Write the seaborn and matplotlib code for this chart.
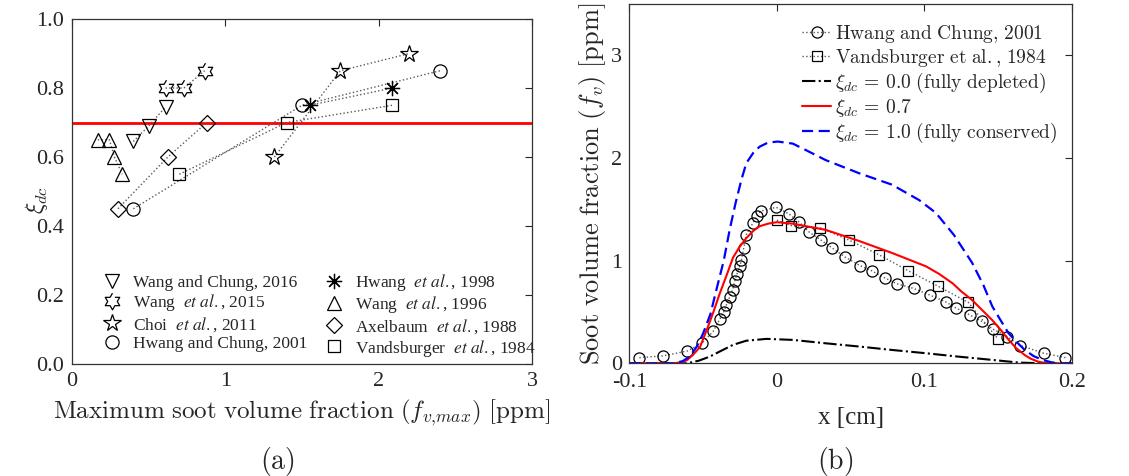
import numpy as np
import copy
import matplotlib
matplotlib.use("Agg")
import matplotlib.pyplot as plt
import seaborn as sns
from matplotlib.font_manager import FontProperties

sns.set_theme(style="white")
plt.rcParams['font.family'] = ['Liberation Serif', 'DejaVu Serif']
plt.rcParams['mathtext.fontset'] = 'cm'

# ---------------- Panel (a) data ----------------
wc2016_x = [0.40, 0.50, 0.61]
wc2016_y = [0.645, 0.69, 0.745]
w2015_x = [0.61, 0.73, 0.865]
w2015_y = [0.80, 0.80, 0.85]
choi_x = [1.32, 1.75, 2.20]
choi_y = [0.60, 0.85, 0.90]
hc2001_x = [0.40, 1.50, 2.40]
hc2001_y = [0.45, 0.75, 0.85]
h1998_x = [1.55, 2.09]
h1998_y = [0.75, 0.80]
w1996_x = [0.168, 0.244, 0.277, 0.327]
w1996_y = [0.65, 0.65, 0.60, 0.55]
axel_x = [0.30, 0.625, 0.879]
axel_y = [0.45, 0.60, 0.70]
vand_x = [0.70, 1.40, 2.09]
vand_y = [0.55, 0.70, 0.75]
xi_ref = 0.7

labels_a = ["Wang and Chung, 2016", r"Wang  $\it{et\ al.}$, 2015", r"Choi  $\it{et\ al.}$, 2011",
            "Hwang and Chung, 2001", r"Hwang  $\it{et\ al.}$, 1998", r"Wang  $\it{et\ al.}$, 1996",
            r"Axelbaum  $\it{et\ al.}$, 1988", r"Vandsburger  $\it{et\ al.}$, 1984"]

# ---------------- Panel (b) data ----------------
hc_x = [-0.0932, -0.077, -0.0606, -0.0505, -0.0432, -0.0387, -0.036, -0.0342, -0.032, -0.030,
        -0.0286, -0.027, -0.0252, -0.024, -0.0225, -0.0207, -0.0162, -0.0135, -0.011, -0.0005,
        0.0081, 0.0149, 0.022, 0.030, 0.0374, 0.0464, 0.0565, 0.0642, 0.0732, 0.0813,
        0.0926, 0.1038, 0.1144, 0.1216, 0.1306, 0.1387, 0.1466, 0.1561, 0.165, 0.181, 0.1955]
hc_y = [0.055, 0.072, 0.12, 0.20, 0.31, 0.43, 0.50, 0.57, 0.645, 0.717,
        0.80, 0.873, 0.945, 1.003, 1.12, 1.254, 1.368, 1.433, 1.482, 1.52,
        1.456, 1.378, 1.277, 1.199, 1.124, 1.033, 0.951, 0.902, 0.831, 0.775,
        0.73, 0.664, 0.599, 0.537, 0.472, 0.41, 0.332, 0.26, 0.173, 0.098, 0.055]

vd_x = [0.0, 0.0097, 0.0295, 0.049, 0.069, 0.089, 0.1095, 0.1297, 0.150]
vd_y = [1.394, 1.342, 1.319, 1.199, 1.059, 0.902, 0.749, 0.593, 0.235]

dep_x = [-0.10, -0.07, -0.061, -0.053, -0.0455, -0.038, -0.0297, -0.0207, -0.007, 0.0108,
         0.033, 0.056, 0.078, 0.101, 0.123, 0.146, 0.164, 0.18, 0.20]
dep_y = [0.0, 0.0, 0.0, 0.025, 0.065, 0.12, 0.18, 0.22, 0.238, 0.228,
         0.195, 0.163, 0.13, 0.098, 0.065, 0.033, 0.007, 0.0, 0.0]

mid_x = [-0.10, -0.08, -0.07, -0.065, -0.061, -0.057, -0.052, -0.0466, -0.043, -0.0387,
         -0.034, -0.0297, -0.025, -0.0207, -0.016, -0.0117, -0.006, 0.0, 0.0108, 0.033,
         0.056, 0.078, 0.101, 0.11, 0.119, 0.125, 0.132, 0.139, 0.146, 0.152,
         0.157, 0.162, 0.168, 0.172, 0.177, 0.181, 0.186, 0.20]
mid_y = [0.0, 0.0, 0.0, 0.01, 0.03, 0.08, 0.16, 0.36, 0.50, 0.68,
         0.86, 1.03, 1.14, 1.22, 1.29, 1.335, 1.36, 1.375, 1.36, 1.30,
         1.19, 1.075, 0.945, 0.87, 0.78, 0.70, 0.62, 0.52, 0.42, 0.32,
         0.23, 0.15, 0.08, 0.045, 0.016, 0.005, 0.0, 0.0]

full_x = [-0.10, -0.08, -0.07, -0.064, -0.059, -0.054, -0.05, -0.045, -0.041, -0.036,
          -0.032, -0.028, -0.024, -0.0207, -0.016, -0.0117, -0.006, 0.0007, 0.0108, 0.022,
          0.033, 0.056, 0.078, 0.0964, 0.1077, 0.12, 0.1324, 0.14, 0.146, 0.152,
          0.157, 0.163, 0.168, 0.174, 0.18, 0.186, 0.191, 0.20]
full_y = [0.0, 0.0, 0.0, 0.02, 0.065, 0.17, 0.29, 0.48, 0.715, 1.0,
          1.30, 1.56, 1.79, 1.95, 2.05, 2.11, 2.15, 2.16, 2.14, 2.06,
          1.98, 1.85, 1.74, 1.59, 1.466, 1.25, 0.977, 0.76, 0.554, 0.41,
          0.293, 0.2, 0.13, 0.07, 0.033, 0.01, 0.0, 0.0]

labels_b = [r"$\mathrm{Hwang\ and\ Chung{,}\ 2001}$",
            r"$\mathrm{Vandsburger\ et\ al.{,}\ 1984}$",
            r"$\xi_{dc}\, =\, 0.0\ \mathrm{(fully\ depleted)}$",
            r"$\xi_{dc}\, =\, 0.7$",
            r"$\xi_{dc}\, =\, 1.0\ \mathrm{(fully\ conserved)}$"]

xt_a = [0, 1, 2, 3]
xtl_a = ["0", "1", "2", "3"]
yt_a = [0.0, 0.2, 0.4, 0.6, 0.8, 1.0]
ytl_a = ["0.0", "0.2", "0.4", "0.6", "0.8", "1.0"]
xt_b = [-0.1, 0.0, 0.1, 0.2]
xtl_b = ["-0.1", "0", "0.1", "0.2"]
yt_b = [0, 1, 2, 3]
ytl_b = ["0", "1", "2", "3"]

# ---------------- figure ----------------
W, H = 1129, 476
fig = plt.figure(figsize=(W / 100, H / 100), dpi=100)
fig.patch.set_facecolor('white')
axa = fig.add_axes([72 / W, 1 - 364 / H, 460 / W, 345 / H])
axb = fig.add_axes([629.3 / W, 1 - 363.3 / H, 442.7 / W, 359.3 / H])

# hexagram marker (outline of six-pointed star)
ang = np.deg2rad(90 + 30 * np.arange(12))
rad = np.where(np.arange(12) % 2 == 0, 1.0, 1 / np.sqrt(3))
hexagram = list(zip(rad * np.cos(ang), rad * np.sin(ang)))

dot_kw = dict(color='0.35', linestyle=':', linewidth=1.0, markeredgecolor='black',
              markerfacecolor='none', markeredgewidth=0.9, estimator=None, sort=False)

series_a = [
    (wc2016_x, wc2016_y, 'v', 10.5),
    (w2015_x, w2015_y, hexagram, 12),
    (choi_x, choi_y, '*', 13),
    (hc2001_x, hc2001_y, 'o', 9.5),
    (h1998_x, h1998_y, (8, 2, 0), 11),
    (w1996_x, w1996_y, '^', 10.5),
    (axel_x, axel_y, 'D', 8),
    (vand_x, vand_y, 's', 8),
]
for (xs, ys, mk, ms), lab in zip(series_a, labels_a):
    sns.lineplot(x=xs, y=ys, ax=axa, marker=mk, markersize=ms, label=lab, **dot_kw)

axa.axhline(xi_ref, color='#ff0000', linewidth=2.0, zorder=1)

axa.set_xlim(0, 3)
axa.set_ylim(0, 1)
axa.set_xticks(xt_a)
axa.set_xticklabels(xtl_a)
axa.set_yticks(yt_a)
axa.set_yticklabels(ytl_a)

h, l = axa.get_legend_handles_labels()
hh = []
for hd in h:
    c = copy.copy(hd)
    c.set_linestyle('None')
    hh.append(c)
axa.legend(hh, l, ncol=2, loc='lower left', bbox_to_anchor=(0.035, -0.027),
           frameon=False, handlelength=1.0, handletextpad=0.75,
           columnspacing=1.0, labelspacing=0.1, borderpad=0.35,
           prop=FontProperties(family='Liberation Serif', size=12.5, math_fontfamily='stix'))

axa.set_xlabel(r"$\mathrm{Maximum\ soot\ volume\ fraction\ }(f_{v{,}max})\mathrm{\ [ppm]}$",
               fontsize=18, va='center')
axa.xaxis.set_label_coords(0.5, -0.142)
axa.set_ylabel(r"$\xi_{dc}$", fontsize=17, va='center')
axa.yaxis.set_label_coords(-0.078, 0.475)

# ---------------- panel (b) ----------------
sns.lineplot(x=hc_x, y=hc_y, ax=axb, marker='o', markersize=8, label=labels_b[0], **dot_kw)
sns.lineplot(x=vd_x, y=vd_y, ax=axb, marker='s', markersize=7.5, label=labels_b[1], **dot_kw)
sns.lineplot(x=dep_x, y=dep_y, ax=axb, color='black', linestyle='-.', linewidth=1.5,
             label=labels_b[2], estimator=None, sort=False)
sns.lineplot(x=mid_x, y=mid_y, ax=axb, color='#ff0000', linestyle='-', linewidth=1.5,
             label=labels_b[3], estimator=None, sort=False)
sns.lineplot(x=full_x, y=full_y, ax=axb, color='#0000ff', linewidth=1.6,
             label=labels_b[4], estimator=None, sort=False, dashes=False)
axb.get_lines()[-1].set_dashes([5, 2.5])

axb.set_xlim(-0.1, 0.2)
axb.set_ylim(0, 3.5)
axb.set_xticks(xt_b)
axb.set_xticklabels(xtl_b)
axb.set_yticks(yt_b)
axb.set_yticklabels(ytl_b)

hb, lb = axb.get_legend_handles_labels()
axb.legend(hb, lb, loc='upper right', bbox_to_anchor=(0.998, 0.985), frameon=False,
           handlelength=1.5, handletextpad=0.2, labelspacing=0.1, borderpad=0.2,
           prop=FontProperties(family='Liberation Serif', size=14, math_fontfamily='cm'))

axb.set_xlabel("x [cm]", fontsize=18, va='center')
axb.xaxis.set_label_coords(0.5, -0.152)
axb.set_ylabel(r"$\mathrm{Soot\ volume\ fraction\ }(f_v)\mathrm{\ [ppm]}$", fontsize=19, va='center')
axb.yaxis.set_label_coords(-0.082, 0.5)

for ax in (axa, axb):
    ax.tick_params(direction='in', top=True, right=True, length=5, width=0.8,
                   labelsize=16, pad=6, colors='0.15')
    for s in ax.spines.values():
        s.set_color('0.2')
        s.set_linewidth(0.9)
    ax.set_facecolor('white')
axb.tick_params(axis='y', pad=5)
axb.tick_params(axis='x', pad=7)

fig.text(277 / W, 1 - 461 / H, r"$\mathrm{(a)}$", fontsize=20, ha='center', va='center')
fig.text(835 / W, 1 - 461 / H, r"$\mathrm{(b)}$", fontsize=20, ha='center', va='center')

fig.savefig("out.png", dpi=100, facecolor='white')
